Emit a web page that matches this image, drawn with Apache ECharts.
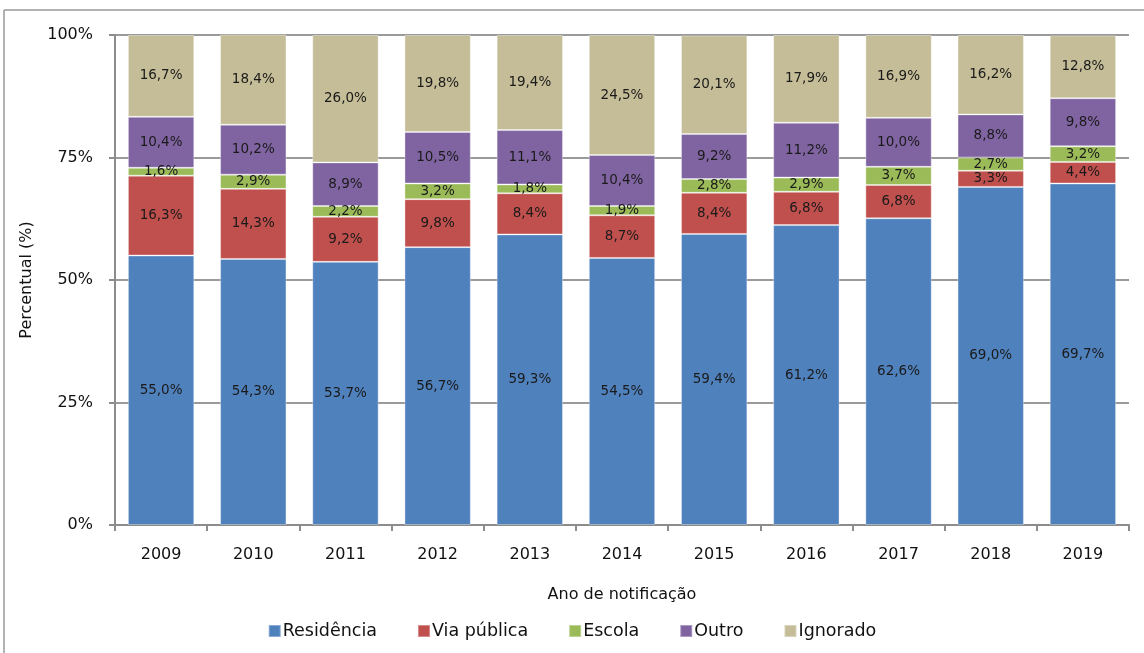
<!DOCTYPE html>
<html>
<head>
<meta charset="utf-8">
<script src="https://cdn.jsdelivr.net/npm/echarts@6/dist/echarts.min.js"></script>
<style>
  html, body { margin: 0; padding: 0; background: #fff; }
  #chart { width: 1144px; height: 653px; }
</style>
</head>
<body>
<div id="chart"></div>
<script>
var years = ['2009', '2010', '2011', '2012', '2013', '2014', '2015', '2016', '2017', '2018', '2019'];
var residencia = [55.0, 54.3, 53.7, 56.7, 59.3, 54.5, 59.4, 61.2, 62.6, 69.0, 69.7];
var viaPublica = [16.3, 14.3, 9.2, 9.8, 8.4, 8.7, 8.4, 6.8, 6.8, 3.3, 4.4];
var escola = [1.6, 2.9, 2.2, 3.2, 1.8, 1.9, 2.8, 2.9, 3.7, 2.7, 3.2];
var outro = [10.4, 10.2, 8.9, 10.5, 11.1, 10.4, 9.2, 11.2, 10.0, 8.8, 9.8];
var ignorado = [16.7, 18.4, 26.0, 19.8, 19.4, 24.5, 20.1, 17.9, 16.9, 16.2, 12.8];
var yTicks = ['0%', '25%', '50%', '75%', '100%'];

var chart = echarts.init(document.getElementById('chart'));

function fmt(p) {
  return p.value.toFixed(1).replace('.', ',') + '%';
}

function serie(name, data, color) {
  return {
    name: name,
    type: 'bar',
    stack: 'total',
    data: data,
    barCategoryGap: '28%',
    itemStyle: { color: color, borderColor: 'rgba(255,255,255,0.35)', borderWidth: 1 },
    label: {
      show: true,
      position: 'inside',
      formatter: fmt,
      color: '#1a1a1a',
      fontFamily: 'DejaVu Sans',
      fontSize: 13.5
    }
  };
}

var option = {
  animation: false,
  grid: { left: 115, right: 15, top: 35, bottom: 128 },
  legend: {
    bottom: 8,
    left: 'center',
    itemWidth: 12,
    itemHeight: 12,
    itemGap: 40,
    icon: 'rect',
    textStyle: { fontFamily: 'DejaVu Sans', fontSize: 17.5, color: '#111', padding: [0, 0, 0, -3] },
    data: ['Residência', 'Via pública', 'Escola', 'Outro', 'Ignorado']
  },
  graphic: [
    { type: 'line', shape: { x1: 4, y1: 10, x2: 1144, y2: 10 }, style: { stroke: '#9a9a9a', lineWidth: 1.5 } },
    { type: 'line', shape: { x1: 4, y1: 10, x2: 4, y2: 653 }, style: { stroke: '#9a9a9a', lineWidth: 1.5 } }
  ],
  xAxis: {
    type: 'category',
    data: years,
    name: 'Ano de notificação',
    nameLocation: 'middle',
    nameGap: 62,
    nameTextStyle: { fontFamily: 'DejaVu Sans', fontSize: 16, color: '#111' },
    axisLine: { lineStyle: { color: '#8c8c8c', width: 2 } },
    axisTick: { show: true, length: 6, lineStyle: { color: '#8c8c8c', width: 2 } },
    axisLabel: { fontFamily: 'DejaVu Sans', fontSize: 16, color: '#111', margin: 22 }
  },
  yAxis: {
    type: 'value',
    min: 0,
    max: 100,
    interval: 25,
    name: 'Percentual (%)',
    nameLocation: 'middle',
    nameGap: 80,
    nameTextStyle: { fontFamily: 'DejaVu Sans', fontSize: 16, color: '#111' },
    axisLine: { show: true, lineStyle: { color: '#8c8c8c', width: 2 } },
    axisTick: { show: true, length: 6, lineStyle: { color: '#8c8c8c', width: 2 } },
    splitLine: { show: true, lineStyle: { color: '#9a9a9a', width: 2 } },
    axisLabel: {
      fontFamily: 'DejaVu Sans',
      fontSize: 16,
      color: '#111',
      margin: 22,
      formatter: function (v) { return yTicks[v / 25]; }
    }
  },
  series: [
    serie('Residência', residencia, '#4f81bd'),
    serie('Via pública', viaPublica, '#c0504d'),
    serie('Escola', escola, '#9bbb59'),
    serie('Outro', outro, '#8064a2'),
    serie('Ignorado', ignorado, '#c4bd97')
  ]
};

chart.setOption(option);
</script>
</body>
</html>
